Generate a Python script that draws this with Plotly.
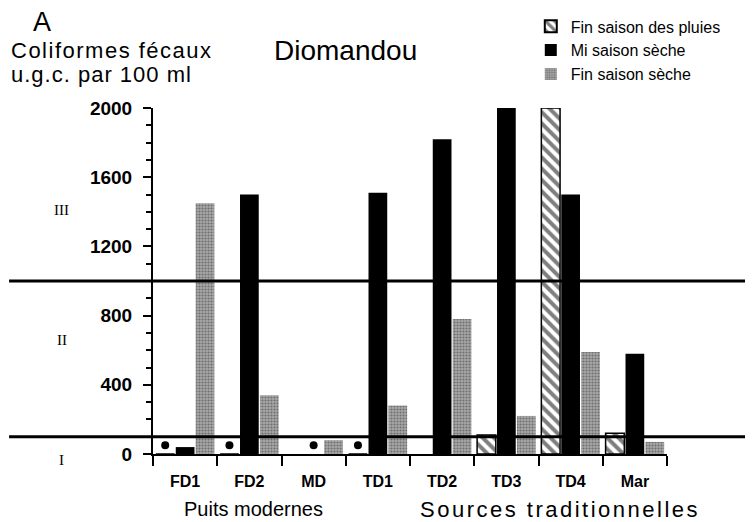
import plotly.graph_objects as go

# ---- data ----
categories = ["FD1", "FD2", "MD", "TD1", "TD2", "TD3", "TD4", "Mar"]
fin_saison_pluies = [0, 0, None, 0, None, 110, 2000, 120]
mi_saison_seche = [40, 1500, 0, 1510, 1820, 2000, 1500, 580]
fin_saison_seche = [1450, 340, 80, 280, 780, 220, 590, 70]
series_names = ["Fin saison des pluies", "Mi saison sèche", "Fin saison sèche"]
y_tickvals = [0, 400, 800, 1200, 1600, 2000]
class_labels = ["I", "II", "III"]
class_limits = [100, 1000]
group_labels = ["Puits modernes", "Sources traditionnelles"]

# ---- styling ----
NARROW = "Liberation Sans Narrow, Arial Narrow, Liberation Sans, Arial, sans-serif"
SANS = "Liberation Sans, Arial, Helvetica, sans-serif"
SERIF = "Liberation Serif, Times New Roman, serif"
BARGAP = 0.07
SLOT = (1 - BARGAP) / 3
ND_Y = 50  # height at which "not detected" dots are drawn


def spaced(text, px):
    return '<span style="letter-spacing:%spx">%s</span>' % (px, text)


x_idx = list(range(len(categories)))
series = [fin_saison_pluies, mi_saison_seche, fin_saison_seche]

fig = go.Figure()
fig.add_trace(go.Bar(
    x=x_idx, y=fin_saison_pluies, name=series_names[0],
    marker=dict(color="white", line=dict(color="black", width=1.5),
                pattern=dict(shape="\\", fgcolor="black", bgcolor="white",
                             size=8, solidity=0.5)),
))
fig.add_trace(go.Bar(
    x=x_idx, y=mi_saison_seche, name=series_names[1],
    marker=dict(color="black", line=dict(width=0)),
))
fig.add_trace(go.Bar(
    x=x_idx, y=fin_saison_seche, name=series_names[2],
    marker=dict(color="#a0a0a0", line=dict(width=0),
                pattern=dict(shape=".", fgcolor="#333333", bgcolor="#a8a8a8",
                             size=3, solidity=0.4)),
))

# dots for values of zero (not detected)
dx, dy = [], []
for k, vals in enumerate(series):
    for i, v in enumerate(vals):
        if v == 0:
            dx.append(i + (k - 1) * SLOT)
            dy.append(ND_Y)
fig.add_trace(go.Scatter(
    x=dx, y=dy, mode="markers", showlegend=False, hoverinfo="skip",
    marker=dict(color="black", size=8, symbol="circle"),
))

shapes = []
for lim in class_limits:
    shapes.append(dict(type="line", xref="paper", yref="y",
                       x0=-0.28, x1=1.152, y0=lim, y1=lim,
                       line=dict(color="black", width=3), layer="above"))

annotations = [
    dict(text="A", x=-0.215, y=1.25, xref="paper", yref="paper", showarrow=False,
         xanchor="center", yanchor="middle", font=dict(family=SANS, size=27, color="black")),
    dict(text=spaced("Coliformes fécaux", 1.5), x=-0.28, y=1.167, xref="paper", yref="paper",
         showarrow=False, xanchor="left", yanchor="middle",
         font=dict(family=SANS, size=22, color="black")),
    dict(text=spaced("u.g.c. par 100 ml", 1), x=-0.28, y=1.097, xref="paper", yref="paper",
         showarrow=False, xanchor="left", yanchor="middle",
         font=dict(family=SANS, size=22, color="black")),
    dict(text="Diomandou", x=0.375, y=1.165, xref="paper", yref="paper",
         showarrow=False, xanchor="center", yanchor="middle",
         font=dict(family=SANS, size=28, color="black")),
    dict(text=group_labels[0], x=0.195, y=-0.16, xref="paper", yref="paper",
         showarrow=False, xanchor="center", yanchor="middle",
         font=dict(family=SANS, size=20, color="black")),
    dict(text=spaced(group_labels[1], 2.5),
         x=0.792, y=-0.16, xref="paper", yref="paper",
         showarrow=False, xanchor="center", yanchor="middle",
         font=dict(family=SANS, size=22, color="black")),
]
class_y = [-0.017, 0.33, 0.705]
for lab, yy in zip(class_labels, class_y):
    annotations.append(dict(text=lab, x=-0.178, y=yy, xref="paper", yref="paper",
                            showarrow=False, xanchor="center", yanchor="middle",
                            font=dict(family=SERIF, size=15, color="black")))

# the page body has an 8px default margin, so the figure is 8px smaller
fig.update_layout(
    width=745, height=514,
    margin=dict(l=145, r=86, t=100, b=68, autoexpand=False),
    paper_bgcolor="white", plot_bgcolor="white",
    barmode="group", bargap=BARGAP, bargroupgap=0.06,
    showlegend=True,
    legend=dict(x=0.735, y=1.285, xanchor="left", yanchor="top",
                font=dict(family=NARROW, size=16, color="black"),
                bgcolor="rgba(0,0,0,0)", itemsizing="constant", tracegroupgap=0),
    shapes=shapes, annotations=annotations,
    xaxis=dict(range=[-0.5, len(categories) - 0.5], tickmode="array",
               tickvals=x_idx, ticktext=categories, ticks="",
               ticklabelstandoff=12,
               tickfont=dict(family=NARROW, size=16, color="black", weight="bold"),
               showline=True, linecolor="black", linewidth=1.5,
               showgrid=False, zeroline=False,
               minor=dict(tickmode="array",
                          tickvals=[i - 0.5 for i in range(len(categories) + 1)],
                          ticks="outside", ticklen=10, tickwidth=2, tickcolor="black",
                          showgrid=False)),
    yaxis=dict(range=[0, 2000], tickmode="array", tickvals=y_tickvals,
               ticks="outside", ticklen=8, tickwidth=2, tickcolor="black",
               ticklabelstandoff=7,
               tickfont=dict(family=NARROW, size=19, color="black", weight="bold"),
               showline=True, linecolor="black", linewidth=2,
               showgrid=False, zeroline=False,
               minor=dict(dtick=100, ticks="outside", ticklen=5, tickwidth=1.5,
                          tickcolor="black", showgrid=False)),
)

fig.write_html("out.html")
